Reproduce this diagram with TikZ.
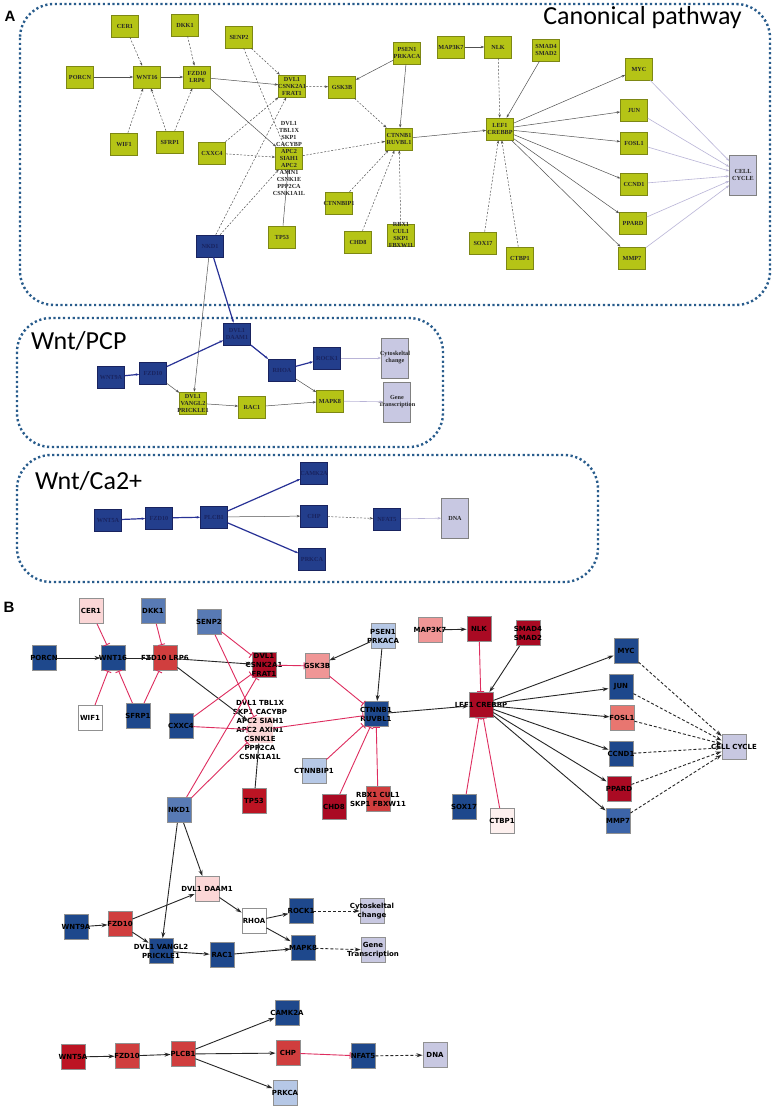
\documentclass[tikz,border=0pt]{standalone}
\usepackage{fontspec}
\setmainfont{Liberation Serif}
\newfontfamily\dvs{DejaVu Sans}
\newfontfamily\calfont{Carlito}
\newfontfamily\lsans{Liberation Sans}
\usetikzlibrary{arrows.meta}
\definecolor{agreen}{RGB}{181,196,22}
\definecolor{agreenb}{RGB}{125,135,20}
\definecolor{ablue}{RGB}{35,62,140}
\definecolor{abluet}{RGB}{25,35,95}
\definecolor{alav}{RGB}{200,200,226}
\definecolor{aline}{RGB}{80,80,80}
\definecolor{abline}{RGB}{40,50,150}
\definecolor{alavline}{RGB}{185,180,215}
\definecolor{dotc}{RGB}{40,92,140}
\definecolor{bgray}{RGB}{145,145,145}
\definecolor{inh}{RGB}{222,45,95}
\definecolor{bdb}{RGB}{30,72,140}
\definecolor{bmb}{RGB}{88,122,180}
\definecolor{bmb2}{RGB}{60,100,168}
\definecolor{blb}{RGB}{182,200,230}
\definecolor{bpk}{RGB}{251,214,214}
\definecolor{bpk2}{RGB}{253,240,238}
\definecolor{bsal}{RGB}{240,150,150}
\definecolor{bsal2}{RGB}{232,118,112}
\definecolor{bred}{RGB}{208,62,62}
\definecolor{bdr}{RGB}{170,10,35}
\definecolor{bdr2}{RGB}{188,20,35}
\definecolor{blav}{RGB}{200,200,225}
\begin{document}
\begin{tikzpicture}[x=1pt,y=-1pt,
  dotbox/.style={draw=dotc, line width=2.4pt, dash pattern=on 2.2pt off 2.6pt, rounded corners=34pt},
  ptitle/.style={font=\calfont\fontsize{26}{26}\selectfont, inner sep=0pt},
  plet/.style={font=\lsans\bfseries\fontsize{15}{15}\selectfont, inner sep=0pt},
  ga/.style={draw=agreenb, fill=agreen, minimum width=27pt, minimum height=22pt, inner sep=0pt, line width=0.6pt},
  ba/.style={ga, fill=ablue, draw=abluet},
  la/.style={ga, fill=alav, draw=gray, minimum height=40pt},
  lA/.style={font=\fontsize{6.2}{7}\selectfont\bfseries, align=center, inner sep=0pt, text=black!85},
  lAb/.style={lA, text=abluet},
  ae/.style={-{Stealth[length=3.5pt,width=2.5pt]}, line width=0.5pt, draw=aline},
  ad/.style={ae, dash pattern=on 2pt off 1.6pt},
  ab/.style={-{Stealth[length=3.5pt,width=2.5pt]}, line width=1.2pt, draw=abline},
  al/.style={-{Stealth[length=3.5pt,width=2.5pt]}, line width=0.6pt, draw=alavline},
  bn/.style={draw=bgray, line width=0.9pt, minimum width=24pt, minimum height=25pt, inner sep=0pt},
  lB/.style={font=\dvs\bfseries\fontsize{7}{9}\selectfont, align=center, inner sep=0pt, text=black},
  bA/.style={-{Stealth[length=6pt,width=4pt]}, line width=0.9pt, draw=black!85},
  bI/.style={-{Bar[width=7pt,line width=0.9pt]}, line width=0.9pt, draw=inh},
  bD/.style={bA, dash pattern=on 3pt off 2pt}
]
\useasboundingbox (0,0) rectangle (777,1108);
\fill[white] (0,0) rectangle (777,1108);

% ---------------- Panel A frames ----------------
\node[plet] (letA) at (10,16) {A};
\draw[dotbox] (20,4) rectangle (770,305);
\draw[dotbox] (17,318) rectangle (443,447);
\draw[dotbox] (17,455) rectangle (598,582);
\node[ptitle, anchor=east] (tcan) at (742,18) {Canonical pathway};
\node[ptitle, anchor=west] (tpcp) at (31,341) {Wnt/PCP};
\node[ptitle, anchor=west] (tca) at (35,481) {Wnt/Ca2+};

% ---------------- Panel A canonical nodes ----------------
\node[ga,label={[lA]center:CER1}] (aCER) at (125,26) {};
\node[ga,label={[lA]center:DKK1}] (aDKK) at (185,25) {};
\node[ga,label={[lA]center:SENP2}] (aSENP) at (239,37) {};
\node[ga,label={[lA]center:PORCN}] (aPORCN) at (80,77) {};
\node[ga,label={[lA]center:WNT16}] (aWNT16) at (147,77) {};
\node[ga,label={[lA]center:FZD10\\LRP6}] (aFZD) at (197,77) {};
\node[ga,label={[lA]center:DVL1\\CSNK2A1\\FRAT1}] (aDVL) at (292,86) {};
\node[ga,label={[lA]center:GSK3B}] (aGSK) at (342,87) {};
\node[ga,label={[lA]center:WIF1}] (aWIF) at (124,144) {};
\node[ga,label={[lA]center:SFRP1}] (aSFRP) at (170,142) {};
\node[ga,label={[lA]center:CXXC4}] (aCXXC) at (212,153) {};
\node[ga,label={[lA]center:DVL1\\TBL1X\\SKP1\\CACYBP\\APC2\\SIAH1\\APC2\\AXIN1\\CSNK1E\\PPP2CA\\CSNK1A1L}] (aAPC) at (289,158) {};
\node[ga,label={[lA]center:TP53}] (aTP53) at (282,237) {};
\node[ba,label={[lAb]center:NKD1}] (aNKD) at (210,246) {};
\node[ga,label={[lA]center:CTNNBIP1}] (aCTIP) at (339,203) {};
\node[ga,label={[lA]center:CHD8}] (aCHD) at (358,242) {};
\node[ga,label={[lA]center:RBX1\\CUL1\\SKP1\\FBXW11}] (aRBX) at (401,235) {};
\node[ga,label={[lA]center:CTNNB1\\RUVBL1}] (aCTN) at (399,139) {};
\node[ga,label={[lA]center:PSEN1\\PRKACA}] (aPSEN) at (407,53) {};
\node[ga,label={[lA]center:MAP3K7}] (aMAP) at (451,47) {};
\node[ga,label={[lA]center:NLK}] (aNLK) at (498,47) {};
\node[ga,label={[lA]center:SMAD4\\SMAD2}] (aSMAD) at (546,50) {};
\node[ga,label={[lA]center:LEF1\\CREBBP}] (aLEF) at (500,129) {};
\node[ga,label={[lA]center:MYC}] (aMYC) at (639,69) {};
\node[ga,label={[lA]center:JUN}] (aJUN) at (634,110) {};
\node[ga,label={[lA]center:FOSL1}] (aFOS) at (634,143) {};
\node[ga,label={[lA]center:CCND1}] (aCCND) at (634,184) {};
\node[ga,label={[lA]center:PPARD}] (aPPARD) at (633,223) {};
\node[ga,label={[lA]center:MMP7}] (aMMP) at (632,258) {};
\node[la,label={[lA]center:CELL\\CYCLE}] (aCC) at (743,175) {};
\node[ga,label={[lA]center:SOX17}] (aSOX) at (483,243) {};
\node[ga,label={[lA]center:CTBP1}] (aCTBP) at (520,258) {};

% PCP
\node[ba,label={[lAb]center:WNT9A}] (aWNT9) at (111,377) {};
\node[ba,label={[lAb]center:FZD10}] (aFZ2) at (153,373) {};
\node[ba,label={[lAb]center:DVL1\\DAAM1}] (aDAAM) at (237,334) {};
\node[ba,label={[lAb]center:RHOA}] (aRHOA) at (282,370) {};
\node[ba,label={[lAb]center:ROCK1}] (aROCK) at (327,358) {};
\node[ga,label={[lA]center:DVL1\\VANGL2\\PRICKLE1}] (aVANG) at (193,403) {};
\node[ga,label={[lA]center:RAC1}] (aRAC) at (252,407) {};
\node[ga,label={[lA]center:MAPK8}] (aMAPK) at (330,401) {};
\node[la,label={[lA]center:Cytoskeltal\\change}] (aCYT) at (395,358) {};
\node[la,label={[lA]center:Gene\\Transcription}] (aGENE) at (397,402) {};

% Ca
\node[ba,label={[lAb]center:WNT5A}] (aWNT5) at (108,520) {};
\node[ba,label={[lAb]center:FZD10}] (aFZ3) at (159,518) {};
\node[ba,label={[lAb]center:PLCB1}] (aPLC) at (214,517) {};
\node[ba,label={[lAb]center:CAMK2A}] (aCAMK) at (314,473) {};
\node[ba,label={[lAb]center:CHP}] (aCHP) at (314,516) {};
\node[ba,label={[lAb]center:PRKCA}] (aPRK) at (312,559) {};
\node[ba,label={[lAb]center:NFAT5}] (aNFAT) at (387,519) {};
\node[la,label={[lA]center:DNA}] (aDNA) at (455,518) {};

% ---------------- Panel A edges ----------------
\draw[ad] (aCER) -- (aWNT16);
\draw[ad] (aDKK) -- (aFZD);
\draw[ae] (aPORCN) -- (aWNT16);
\draw[ae] (aWNT16) -- (aFZD);
\draw[ad] (aWIF) -- (aWNT16);
\draw[ad] (aSFRP) -- (aWNT16);
\draw[ad] (aSFRP) -- (aFZD);
\draw[ae] (aFZD) -- (aDVL);
\draw[ae] (aFZD) -- (aAPC);
\draw[ad] (aSENP) -- (aDVL);
\draw[ad] (aSENP) -- (aAPC);
\draw[ad] (aDVL) -- (aGSK);
\draw[ad] (aCXXC) -- (aDVL);
\draw[ad] (aCXXC) -- (aAPC);
\draw[ad] (aNKD) -- (aDVL);
\draw[ad] (aNKD) -- (aAPC);
\draw[ae] (aTP53) -- (aAPC);
\draw[ad] (aAPC) -- (aCTN);
\draw[ad] (aGSK) -- (aCTN);
\draw[ae] (aPSEN) -- (aGSK);
\draw[ae] (aPSEN) -- (aCTN);
\draw[ad] (aCTIP) -- (aCTN);
\draw[ad] (aCHD) -- (aCTN);
\draw[ad] (aRBX) -- (aCTN);
\draw[ae] (aCTN) -- (aLEF);
\draw[ae] (aMAP) -- (aNLK);
\draw[ad] (aNLK) -- (aLEF);
\draw[ae] (aSMAD) -- (aLEF);
\draw[ad] (aSOX) -- (aLEF);
\draw[ad] (aCTBP) -- (aLEF);
\foreach \t in {aMYC,aJUN,aFOS,aCCND,aPPARD,aMMP} {
  \draw[ae] (aLEF) -- (\t);
  \draw[al] (\t) -- (aCC);
}
\draw[ab] (aNKD) -- (aDAAM);
\draw[ae] (aNKD) -- (aVANG);
\draw[ab] (aWNT9) -- (aFZ2);
\draw[ab] (aFZ2) -- (aDAAM);
\draw[ab] (aDAAM) -- (aRHOA);
\draw[ab] (aRHOA) -- (aROCK);
\draw[ae] (aFZ2) -- (aVANG);
\draw[ae] (aVANG) -- (aRAC);
\draw[ae] (aRAC) -- (aMAPK);
\draw[ae] (aRHOA) -- (aMAPK);
\draw[al] (aROCK) -- (aCYT);
\draw[al] (aMAPK) -- (aGENE);
\draw[ab] (aWNT5) -- (aFZ3);
\draw[ab] (aFZ3) -- (aPLC);
\draw[ab] (aPLC) -- (aCAMK);
\draw[ae] (aPLC) -- (aCHP);
\draw[ab] (aPLC) -- (aPRK);
\draw[ad] (aCHP) -- (aNFAT);
\draw[al] (aNFAT) -- (aDNA);

% ---------------- Panel B nodes ----------------
\node[plet] (letB) at (9,607) {B};
\node[bn,fill=bpk,label={[lB]center:CER1}] (bCER) at (91,611) {};
\node[bn,fill=bmb,label={[lB]center:DKK1}] (bDKK) at (153,611) {};
\node[bn,fill=bmb,label={[lB]center:SENP2}] (bSENP) at (209,622) {};
\node[bn,fill=bdb,label={[lB]center:PORCN}] (bPORCN) at (44,658) {};
\node[bn,fill=bdb,label={[lB]center:WNT16}] (bWNT16) at (113,658) {};
\node[bn,fill=bred,label={[lB]center:FZD10 LRP6}] (bFZD) at (165,658) {};
\node[bn,fill=bdr,label={[lB]center:DVL1\\CSNK2A1\\FRAT1}] (bDVL) at (264,665) {};
\node[bn,fill=bsal,label={[lB]center:GSK3B}] (bGSK) at (317,666) {};
\node[bn,fill=blb,label={[lB]center:PSEN1\\PRKACA}] (bPSEN) at (383,636) {};
\node[bn,fill=white,label={[lB]center:WIF1}] (bWIF) at (90,718) {};
\node[bn,fill=bdb,label={[lB]center:SFRP1}] (bSFRP) at (138,716) {};
\node[bn,fill=bdb,label={[lB]center:CXXC4}] (bCXXC) at (181,726) {};
\node[bn,fill=bpk,draw=bpk,label={[lB]center:DVL1 TBL1X\\SKP1 CACYBP\\APC2 SIAH1\\APC2 AXIN1\\CSNK1E\\PPP2CA\\CSNK1A1L}] (bAPC) at (260,730) {};
\node[bn,fill=bdb,label={[lB]center:CTNNB1\\RUVBL1}] (bCTN) at (376,714) {};
\node[bn,fill=blb,label={[lB]center:CTNNBIP1}] (bCTIP) at (314,771) {};
\node[bn,fill=bdr,label={[lB]center:CHD8}] (bCHD) at (334,807) {};
\node[bn,fill=bred,label={[lB]center:RBX1 CUL1\\SKP1 FBXW11}] (bRBX) at (378,799) {};
\node[bn,fill=bmb,label={[lB]center:NKD1}] (bNKD) at (179,810) {};
\node[bn,fill=bdr2,label={[lB]center:TP53}] (bTP53) at (254,801) {};
\node[bn,fill=bsal,label={[lB]center:MAP3K7}] (bMAP) at (430,630) {};
\node[bn,fill=bdr,label={[lB]center:NLK}] (bNLK) at (479,629) {};
\node[bn,fill=bdr,label={[lB]center:SMAD4\\SMAD2}] (bSMAD) at (528,633) {};
\node[bn,fill=bdr,label={[lB]center:LEF1 CREBBP}] (bLEF) at (481,705) {};
\node[bn,fill=bdb,label={[lB]center:MYC}] (bMYC) at (626,651) {};
\node[bn,fill=bdb,label={[lB]center:JUN}] (bJUN) at (621,687) {};
\node[bn,fill=bsal2,label={[lB]center:FOSL1}] (bFOS) at (622,718) {};
\node[bn,fill=bdb,label={[lB]center:CCND1}] (bCCND) at (621,754) {};
\node[bn,fill=bdr,label={[lB]center:PPARD}] (bPPARD) at (619,789) {};
\node[bn,fill=bmb2,label={[lB]center:MMP7}] (bMMP) at (618,821) {};
\node[bn,fill=blav,label={[lB]center:CELL CYCLE}] (bCC) at (734,747) {};
\node[bn,fill=bdb,label={[lB]center:SOX17}] (bSOX) at (464,807) {};
\node[bn,fill=bpk2,label={[lB]center:CTBP1}] (bCTBP) at (502,821) {};

\node[bn,fill=bpk,label={[lB]center:DVL1 DAAM1}] (bDAAM) at (207,889) {};
\node[bn,fill=bdb,label={[lB]center:WNT9A}] (bWNT9) at (76,927) {};
\node[bn,fill=bred,label={[lB]center:FZD10}] (bFZ2) at (120,924) {};
\node[bn,fill=bdb,label={[lB]center:DVL1 VANGL2\\PRICKLE1}] (bVANG) at (161,951) {};
\node[bn,fill=bdb,label={[lB]center:RAC1}] (bRAC) at (222,955) {};
\node[bn,fill=white,label={[lB]center:RHOA}] (bRHOA) at (254,921) {};
\node[bn,fill=bdb,label={[lB]center:ROCK1}] (bROCK) at (301,911) {};
\node[bn,fill=bdb,label={[lB]center:MAPK8}] (bMAPK) at (303,948) {};
\node[bn,fill=blav,label={[lB]center:Cytoskeltal\\change}] (bCYT) at (372,911) {};
\node[bn,fill=blav,label={[lB]center:Gene\\Transcription}] (bGENE) at (373,950) {};

\node[bn,fill=bdb,label={[lB]center:CAMK2A}] (bCAMK) at (287,1013) {};
\node[bn,fill=bdr2,label={[lB]center:WNT5A}] (bWNT5) at (73,1057) {};
\node[bn,fill=bred,label={[lB]center:FZD10}] (bFZ3) at (127,1056) {};
\node[bn,fill=bred,label={[lB]center:PLCB1}] (bPLC) at (183,1054) {};
\node[bn,fill=bred,label={[lB]center:CHP}] (bCHP) at (288,1053) {};
\node[bn,fill=blb,label={[lB]center:PRKCA}] (bPRK) at (285,1093) {};
\node[bn,fill=bdb,label={[lB]center:NFAT5}] (bNFAT) at (363,1056) {};
\node[bn,fill=blav,label={[lB]center:DNA}] (bDNA) at (435,1055) {};

% ---------------- Panel B edges ----------------
\draw[bI] (bCER) -- (bWNT16);
\draw[bI] (bDKK) -- (bFZD);
\draw[bA] (bPORCN) -- (bWNT16);
\draw[bA] (bWNT16) -- (bFZD);
\draw[bI] (bWIF) -- (bWNT16);
\draw[bI] (bSFRP) -- (bWNT16);
\draw[bI] (bSFRP) -- (bFZD);
\draw[bA] (bFZD) -- (bDVL);
\draw[bA] (bFZD) -- (bAPC);
\draw[bI] (bSENP) -- (bDVL);
\draw[bI] (bSENP) -- (bAPC);
\draw[bI] (bDVL) -- (bGSK);
\draw[bI] (bCXXC) -- (bDVL);
\draw[bI] (bCXXC) -- (bAPC);
\draw[bI] (bNKD) -- (bDVL);
\draw[bI] (bNKD) -- (bAPC);
\draw[bA] (bTP53) -- (bAPC);
\draw[bI] (bAPC) -- (bCTN);
\draw[bI] (bGSK) -- (bCTN);
\draw[bA] (bPSEN) -- (bGSK);
\draw[bA] (bPSEN) -- (bCTN);
\draw[bI] (bCTIP) -- (bCTN);
\draw[bI] (bCHD) -- (bCTN);
\draw[bI] (bRBX) -- (bCTN);
\draw[bA] (bCTN) -- (bLEF);
\draw[bA] (bMAP) -- (bNLK);
\draw[bI] (bNLK) -- (bLEF);
\draw[bA] (bSMAD) -- (bLEF);
\draw[bI] (bSOX) -- (bLEF);
\draw[bI] (bCTBP) -- (bLEF);
\foreach \t in {bMYC,bJUN,bFOS,bCCND,bPPARD,bMMP} {
  \draw[bA] (bLEF) -- (\t);
  \draw[bD] (\t) -- (bCC);
}
\draw[bA] (bNKD) -- (bDAAM);
\draw[bA] (bNKD) -- (bVANG);
\draw[bA] (bWNT9) -- (bFZ2);
\draw[bA] (bFZ2) -- (bDAAM);
\draw[bA] (bFZ2) -- (bVANG);
\draw[bA] (bDAAM) -- (bRHOA);
\draw[bA] (bRHOA) -- (bROCK);
\draw[bA] (bRHOA) -- (bMAPK);
\draw[bA] (bVANG) -- (bRAC);
\draw[bA] (bRAC) -- (bMAPK);
\draw[bD] (bROCK) -- (bCYT);
\draw[bD] (bMAPK) -- (bGENE);
\draw[bA] (bWNT5) -- (bFZ3);
\draw[bA] (bFZ3) -- (bPLC);
\draw[bA] (bPLC) -- (bCAMK);
\draw[bA] (bPLC) -- (bCHP);
\draw[bA] (bPLC) -- (bPRK);
\draw[bI] (bCHP) -- (bNFAT);
\draw[bD] (bNFAT) -- (bDNA);
\end{tikzpicture}
\end{document}
